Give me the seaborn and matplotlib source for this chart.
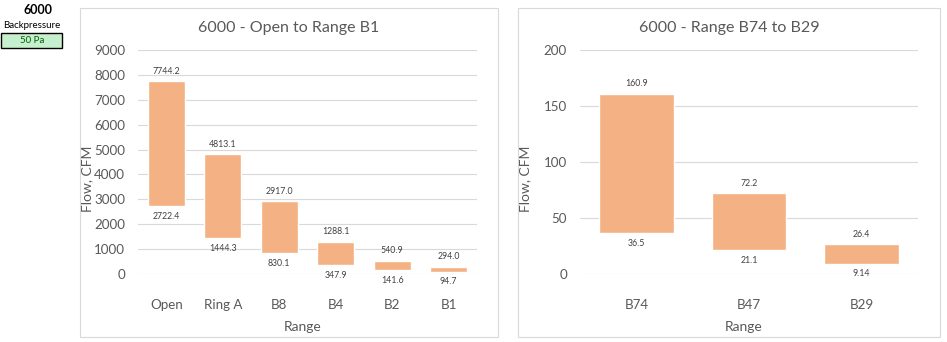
import matplotlib
matplotlib.use("Agg")
import matplotlib.pyplot as plt
import seaborn as sns
import pandas as pd
from matplotlib.patches import Rectangle

# Flow ranges (CFM) per restriction setting, model 6000 at 50 Pa
wide_ranges = ["Open", "Ring A", "B8", "B4", "B2", "B1"]
wide_high = [7744.2, 4813.1, 2917.0, 1288.1, 540.9, 294.0]
wide_low = [2722.4, 1444.3, 830.1, 347.9, 141.6, 94.7]
wide_high_labels = ["7744.2", "4813.1", "2917.0", "1288.1", "540.9", "294.0"]
wide_low_labels = ["2722.4", "1444.3", "830.1", "347.9", "141.6", "94.7"]

narrow_ranges = ["B74", "B47", "B29"]
narrow_high = [160.9, 72.2, 26.4]
narrow_low = [36.5, 21.1, 9.14]
narrow_high_labels = ["160.9", "72.2", "26.4"]
narrow_low_labels = ["36.5", "21.1", "9.14"]

sns.set_theme(style="white")
plt.rcParams["font.family"] = ["Lato", "DejaVu Sans"]

BAR = "#F4B183"
GRID = "#D9D9D9"
TXT = "#595959"

W, H = 947, 342
fig = plt.figure(figsize=(W / 100, H / 100), dpi=100)
fig.patch.set_facecolor("white")


def px_box(x0, y0, x1, y1):
    return [x0 / W, 1 - y1 / H, (x1 - x0) / W, (y1 - y0) / H]


def draw_panel(box, axbox, title, cats, lows, highs, lo_lab, hi_lab, ymax, step):
    # chart frame
    fig.patches.append(Rectangle((box[0] / W, 1 - box[3] / H), (box[2] - box[0]) / W,
                                 (box[3] - box[1]) / H, transform=fig.transFigure,
                                 facecolor="none", edgecolor="#D9D9D9", lw=0.8, zorder=-5))
    ax = fig.add_axes(px_box(*axbox))
    ax.patch.set_alpha(0)
    df = pd.DataFrame({"Range": cats, "span": [h - l for h, l in zip(highs, lows)]})
    sns.barplot(data=df, x="Range", y="span", bottom=lows, color=BAR, saturation=1,
                width=0.66, ax=ax, zorder=3)
    ax.set_xlim(-0.5, len(cats) - 0.5)
    ax.set_ylim(0, ymax)
    ax.set_yticks(range(0, ymax + 1, step))
    ax.yaxis.grid(True, color=GRID, lw=0.8, zorder=0)
    ax.set_axisbelow(True)
    for s in ax.spines.values():
        s.set_visible(False)
    ax.tick_params(axis="both", length=0, colors=TXT, labelsize=9.6)
    ax.tick_params(axis="y", pad=9.4)
    ax.tick_params(axis="x", pad=18)
    ax.set_xlabel("")
    ax.set_ylabel("")
    for i in range(len(cats)):
        ax.annotate(hi_lab[i], (i, highs[i]), xytext=(0, 4), textcoords="offset points",
                    ha="center", va="bottom", fontsize=6.3, color="#404040")
        ax.annotate(lo_lab[i], (i, lows[i]), xytext=(0, -4), textcoords="offset points",
                    ha="center", va="top", fontsize=6.3, color="#404040")
    cx = (box[0] + box[2]) / 2
    fig.text(cx / W, 1 - 28 / H, title, ha="center", va="center", fontsize=11.5, color=TXT)
    acx = (axbox[0] + axbox[2]) / 2
    fig.text((acx - 5) / W, 1 - 327 / H, "Range", ha="center", va="center", fontsize=10, color=TXT)
    fig.text((box[0] + 7) / W, 1 - 179 / H, "Flow, CFM", ha="center", va="center",
             rotation=90, fontsize=10, color=TXT)
    return ax


draw_panel((80, 8, 498, 337), (138, 50, 477, 274), "6000 - Open to Range B1",
           wide_ranges, wide_low, wide_high, wide_low_labels, wide_high_labels, 9000, 1000)
draw_panel((518, 8, 940, 337), (580, 50, 918, 274), "6000 - Range B74 to B29",
           narrow_ranges, narrow_low, narrow_high, narrow_low_labels, narrow_high_labels, 200, 50)

# model / backpressure tag in the corner
fig.text(38 / W, 1 - 10 / H, "6000", ha="center", va="center", fontsize=9, fontweight="bold", color="black")
fig.text(32 / W, 1 - 26 / H, "Backpressure", ha="center", va="center", fontsize=7, color="black")
fig.patches.append(Rectangle((1 / W, 1 - 48 / H), 61 / W, 15 / H, transform=fig.transFigure,
                             facecolor="#C6EFCE", edgecolor="black", lw=1.0))
fig.text(32 / W, 1 - 40.5 / H, "50 Pa", ha="center", va="center", fontsize=7, color="#006100")

fig.savefig("out.png", dpi=100, facecolor="white")
